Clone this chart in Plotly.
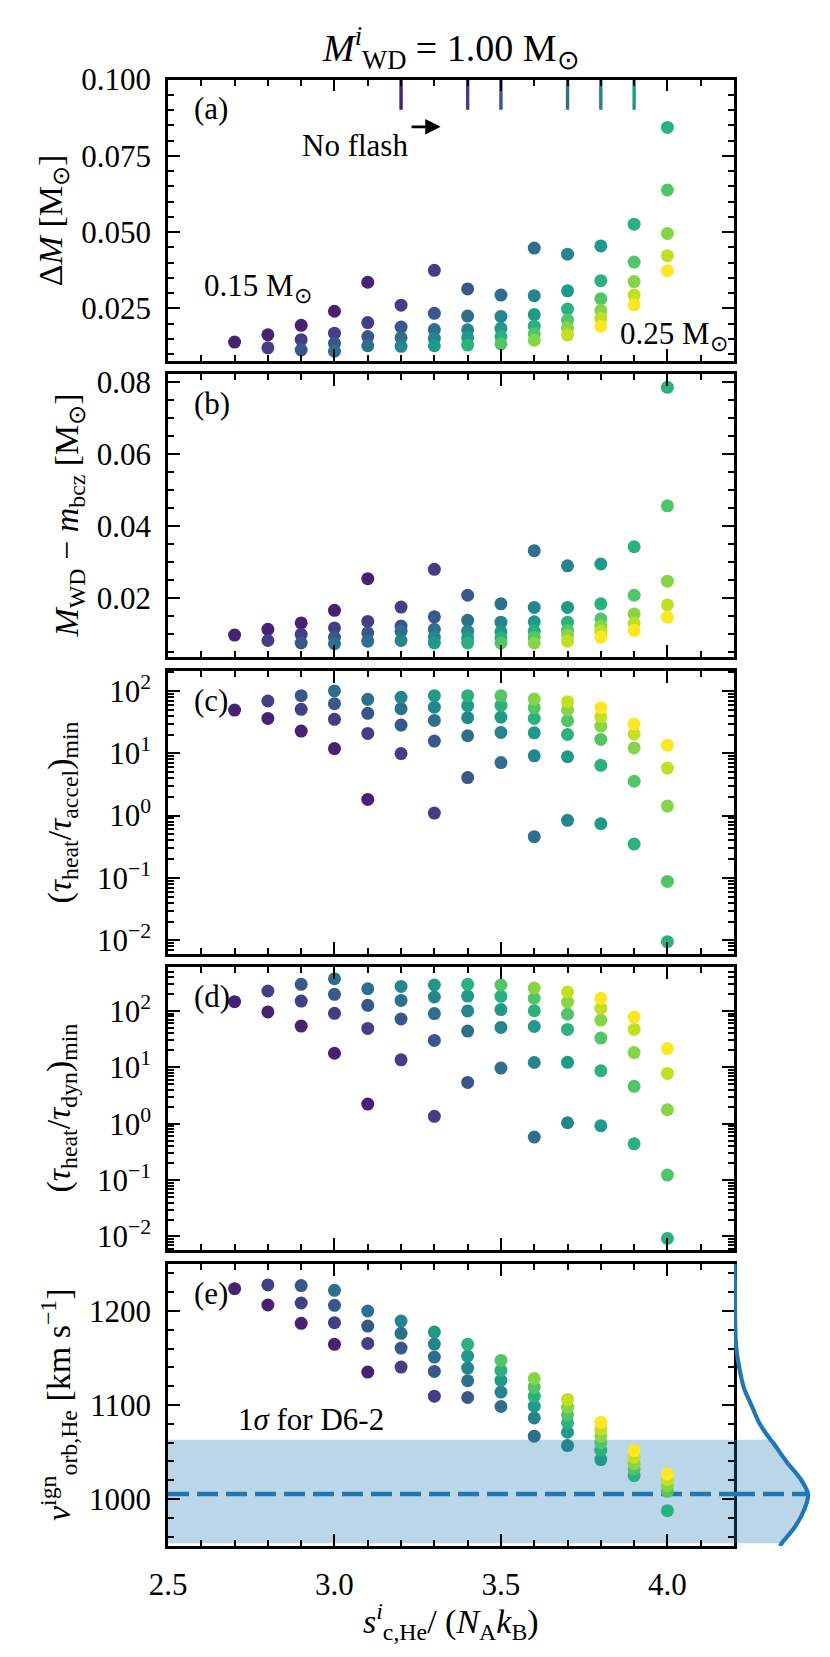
import plotly.graph_objects as go

# ---------------- data ----------------
masses = [0.15, 0.16, 0.17, 0.18, 0.19, 0.20, 0.21, 0.22, 0.23, 0.24, 0.25]
colors = ['#482173', '#433e85', '#38588c', '#2e6f8e', '#25858e', '#1f9a8a',
          '#2bb17e', '#52c569', '#86d549', '#c2df23', '#fde725']

s_vals = [
    [2.7, 2.8, 2.9, 3.0, 3.1],
    [2.8, 2.9, 3.0, 3.1, 3.2, 3.3],
    [2.9, 3.0, 3.1, 3.2, 3.3, 3.4],
    [3.0, 3.1, 3.2, 3.3, 3.4, 3.5, 3.6],
    [3.2, 3.3, 3.4, 3.5, 3.6, 3.7],
    [3.3, 3.4, 3.5, 3.6, 3.7, 3.8],
    [3.4, 3.5, 3.6, 3.7, 3.8, 3.9, 4.0],
    [3.5, 3.6, 3.7, 3.8, 3.9, 4.0],
    [3.6, 3.7, 3.8, 3.9, 4.0],
    [3.7, 3.8, 3.9, 4.0],
    [3.8, 3.9, 4.0],
]

delta_M = [
    [0.0140, 0.0164, 0.0195, 0.0241, 0.0336],
    [0.0121, 0.0148, 0.0169, 0.0204, 0.0261, 0.0375],
    [0.0114, 0.0136, 0.0158, 0.0189, 0.0234, 0.0314],
    [0.0110, 0.0128, 0.0154, 0.0181, 0.0225, 0.0294, 0.0448],
    [0.0126, 0.0152, 0.0180, 0.0224, 0.0292, 0.0428],
    [0.0128, 0.0155, 0.0185, 0.0230, 0.0308, 0.0455],
    [0.0130, 0.0158, 0.0192, 0.0248, 0.0341, 0.0526, 0.0843],
    [0.0134, 0.0167, 0.0212, 0.0282, 0.0402, 0.0638],
    [0.0146, 0.0186, 0.0244, 0.0338, 0.0496],
    [0.0163, 0.0218, 0.0294, 0.0423],
    [0.0191, 0.0262, 0.0374],
]

m_above_bcz = [
    [0.0096, 0.0112, 0.0130, 0.0165, 0.0253],
    [0.0081, 0.0098, 0.0116, 0.0134, 0.0174, 0.0279],
    [0.0074, 0.0090, 0.0102, 0.0121, 0.0147, 0.0207],
    [0.0072, 0.0079, 0.0107, 0.0112, 0.0137, 0.0183, 0.0331],
    [0.0081, 0.0090, 0.0107, 0.0132, 0.0173, 0.0289],
    [0.0074, 0.0088, 0.0105, 0.0133, 0.0173, 0.0294],
    [0.0074, 0.0088, 0.0107, 0.0132, 0.0183, 0.0342, 0.0786],
    [0.0074, 0.0090, 0.0109, 0.0141, 0.0207, 0.0456],
    [0.0074, 0.0096, 0.0121, 0.0155, 0.0246],
    [0.0079, 0.0107, 0.0129, 0.0180],
    [0.0090, 0.0109, 0.0146],
]

heat_accel = [
    [49.4, 36.3, 22.7, 11.9, 1.82],
    [69, 50.7, 35, 20.8, 9.9, 1.10],
    [84, 62.5, 43.7, 28.3, 15.7, 4.07],
    [100, 73.4, 52, 33.7, 19.1, 7.1, 0.46],
    [79, 55, 37.2, 21.6, 9.1, 0.84],
    [84, 58, 38.1, 21.3, 8.8, 0.74],
    [84, 58.8, 36.3, 20.0, 6.4, 0.35, 0.0095],
    [84, 54, 33.3, 16.7, 3.56, 0.088],
    [74.3, 49.4, 27.3, 12.2, 1.42],
    [67.3, 38.6, 20.3, 5.8],
    [54, 29.4, 13.5],
]

heat_dyn = [
    [146, 96, 54, 17.8, 2.23],
    [226, 150, 91, 49, 13.6, 1.35],
    [297, 197, 126, 72, 30, 5.4],
    [373, 248, 154, 90, 44, 9.7, 0.58],
    [273, 177, 100, 51, 12.2, 1.04],
    [289, 184, 106, 53, 12.3, 0.92],
    [297, 182, 101, 47, 8.7, 0.44, 0.0092],
    [289, 168, 88, 33, 4.6, 0.123],
    [255, 144, 69, 18.3, 1.77],
    [217, 111, 47, 7.8],
    [168, 78, 21.5],
]

v_orb = [
    [1223.8, 1206.4, 1186.9, 1164.5, 1135.0],
    [1227.7, 1208.5, 1187.6, 1165.5, 1140.3, 1109.4],
    [1227.0, 1206.0, 1184.0, 1160.6, 1135.7, 1108.0],
    [1222.0, 1200.0, 1176.2, 1151.0, 1125.8, 1098.4, 1066.8],
    [1189.3, 1164.8, 1139.3, 1113.7, 1086.3, 1056.8],
    [1177.6, 1152.0, 1126.1, 1098.8, 1071.0, 1041.9],
    [1164.5, 1136.8, 1109.4, 1081.0, 1051.9, 1024.9, 987.6],
    [1147.4, 1119.0, 1089.5, 1059.7, 1032.0, 1008.2],
    [1128.2, 1097.7, 1067.1, 1037.7, 1014.2],
    [1105.9, 1074.2, 1044.4, 1020.6],
    [1081.7, 1051.5, 1026.6],
]

# "No flash" limits (first s without a flash) for the lowest donor masses
no_flash_s = [3.2, 3.4, 3.5, 3.7, 3.8, 3.9]

# D6-2 velocity distribution (peak normalised to 1)
d6_v = [1250, 1200, 1180, 1160, 1140, 1118, 1100, 1080, 1063, 1060, 1040,
        1020, 1005, 990, 970, 953, 950]
d6_pdf = [0.009, 0.0135, 0.018, 0.031, 0.07, 0.135, 0.234, 0.347, 0.495,
          0.527, 0.707, 0.91, 1.0, 0.955, 0.82, 0.645, 0.62]
d6_mean = 1005.3
d6_lo, d6_hi = 953, 1063

# ---------------- layout ----------------
W, H = 830, 1657
FONT = 'Liberation Serif'
FS = 31
xl, xr = 160 / W, 726 / W
panel_px = [(71.5, 353), (366, 649), (663, 946), (959, 1242), (1256, 1538)]
ydoms = [[1 - b / H, 1 - t / H] for t, b in panel_px]

fig = go.Figure()

panels = [delta_M, m_above_bcz, heat_accel, heat_dyn, v_orb]
for p, vals in enumerate(panels):
    xa = 'x' if p == 0 else f'x{p+1}'
    ya = 'y' if p == 0 else f'y{p+1}'
    for i in range(len(masses)):
        fig.add_trace(go.Scatter(
            x=s_vals[i], y=vals[i], mode='markers',
            marker=dict(size=13, color=colors[i], line=dict(width=0)),
            xaxis=xa, yaxis=ya, showlegend=False, hoverinfo='skip'))

# no-flash ticks at top of panel (a)
for k, s in enumerate(no_flash_s):
    fig.add_trace(go.Scatter(x=[s, s], y=[0.0901, 0.1], mode='lines',
                             line=dict(color=colors[k], width=3.4),
                             xaxis='x', yaxis='y', showlegend=False,
                             hoverinfo='skip', cliponaxis=False))

# side distribution
band_v = [v for v in d6_v if d6_lo <= v <= d6_hi]
band_w = [w for v, w in zip(d6_v, d6_pdf) if d6_lo <= v <= d6_hi]
fig.add_trace(go.Scatter(x=[0] + band_w + [0], y=[band_v[0]] + band_v + [band_v[-1]],
                         fill='toself', fillcolor='rgba(31,119,180,0.3)',
                         line=dict(width=0), mode='lines',
                         xaxis='x6', yaxis='y6', showlegend=False, hoverinfo='skip'))
fig.add_trace(go.Scatter(x=d6_pdf, y=d6_v, mode='lines',
                         line=dict(color='#1f77b4', width=4.2, shape='spline'),
                         xaxis='x6', yaxis='y6', showlegend=False, hoverinfo='skip'))
fig.add_trace(go.Scatter(x=[0, 1.0], y=[d6_mean, d6_mean], mode='lines',
                         line=dict(color='#1f77b4', width=4.3, dash='21px,8px'),
                         xaxis='x6', yaxis='y6', showlegend=False, hoverinfo='skip'))

axis_common = dict(showline=True, linewidth=2.5, linecolor='black', mirror='allticks',
                   ticks='inside', ticklen=12, tickwidth=2, tickcolor='black',
                   showgrid=False, zeroline=False, automargin=False,
                   tickfont=dict(family=FONT, size=FS, color='black'))
minor_common = dict(ticks='inside', ticklen=6.5, tickwidth=1.6, tickcolor='black', showgrid=False)

log_minor = [k * 10.0 ** e for e in range(-3, 3) for k in range(2, 10)]
log_vals = [0.01, 0.1, 1, 10, 100]
log_text = ['10<sup>−2</sup>', '10<sup>−1</sup>', '10<sup>0</sup>', '10<sup>1</sup>', '10<sup>2</sup>']

yaxes = [
    dict(range=[0.0078, 0.100], tickmode='array', tickvals=[0.025, 0.05, 0.075, 0.1],
         ticktext=['0.025', '0.050', '0.075', '0.100'], minor=dict(dtick=0.005, tick0=0, **minor_common)),
    dict(range=[0.0035, 0.0823], tickmode='array', tickvals=[0.02, 0.04, 0.06, 0.08],
         ticktext=['0.02', '0.04', '0.06', '0.08'], minor=dict(dtick=0.005, tick0=0, **minor_common)),
    dict(type='log', range=[-2.22, 2.32], tickmode='array', tickvals=log_vals, ticktext=log_text,
         minor=dict(tickmode='array', tickvals=log_minor, **minor_common)),
    dict(type='log', range=[-2.24, 2.78], tickmode='array', tickvals=log_vals, ticktext=log_text,
         minor=dict(tickmode='array', tickvals=log_minor, **minor_common)),
    dict(range=[950, 1250], tickmode='array', tickvals=[1000, 1100, 1200],
         ticktext=['1000', '1100', '1200'], minor=dict(dtick=20, tick0=0, **minor_common)),
]

lay = {}
for p in range(5):
    xn = 'xaxis' if p == 0 else f'xaxis{p+1}'
    yn = 'yaxis' if p == 0 else f'yaxis{p+1}'
    ya = 'y' if p == 0 else f'y{p+1}'
    xa = 'x' if p == 0 else f'x{p+1}'
    lay[xn] = dict(domain=[xl, xr], anchor=ya, range=[2.5, 4.2], tickmode='array',
                   tickvals=[2.5, 3.0, 3.5, 4.0], ticktext=['2.5', '3.0', '3.5', '4.0'],
                   showticklabels=(p == 4), ticklabelstandoff=9,
                   minor=dict(dtick=0.1, tick0=2.5, **minor_common), **axis_common)
    lay[yn] = dict(domain=ydoms[p], anchor=xa, ticklabelstandoff=8, **yaxes[p], **axis_common)

lay['xaxis6'] = dict(domain=[xr, 1.0], anchor='y6', range=[0, 1.405], visible=False)
lay['yaxis6'] = dict(domain=ydoms[4], anchor='x6', range=[950, 1250], visible=False)

fig.update_layout(width=W, height=H, margin=dict(l=0, r=0, t=0, b=0),
                  paper_bgcolor='white', plot_bgcolor='rgba(0,0,0,0)',
                  font=dict(family=FONT, size=FS, color='black'), **lay)

# band and dashed line in panel (e)
fig.add_shape(type='rect', xref='x5 domain', yref='y5', x0=0, x1=1, y0=d6_lo, y1=d6_hi,
              fillcolor='rgba(31,119,180,0.3)', line=dict(width=0), layer='below')
fig.add_shape(type='line', xref='x5', yref='y5', x0=2.5, x1=4.2, y0=d6_mean, y1=d6_mean,
              line=dict(color='#1f77b4', width=4.3, dash='21px,8px'), layer='below')

ann = []
def txt(text, x, y, xref, yref, xanchor='left', yanchor='middle', size=FS, angle=0):
    ann.append(dict(text=text, x=x, y=y, xref=xref, yref=yref, xanchor=xanchor,
                    yanchor=yanchor, showarrow=False, textangle=angle,
                    font=dict(family=FONT, size=size, color='black')))

# title
txt('<i>M</i><sup><i>i</i></sup><sub>WD</sub> = 1.00 M<sub>⊙</sub>', (160 + 726) / 2 / W,
    1 - 40 / H, 'paper', 'paper', xanchor='center', size=38)
# panel labels
for p, lab in enumerate(['(a)', '(b)', '(c)', '(d)', '(e)']):
    xa = 'x' if p == 0 else f'x{p+1}'
    ya = 'y' if p == 0 else f'y{p+1}'
    txt(lab, 2.573, 0.896, xa, ya + ' domain')
# panel (a) notes
txt('No flash', 3.227, 0.0783, 'x', 'y', xanchor='right')
txt('0.15 M<sub>⊙</sub>', 2.602, 0.0317, 'x', 'y')
txt('0.25 M<sub>⊙</sub>', 3.852, 0.0160, 'x', 'y')
# panel (e) note
txt('1<i>σ</i> for D6-2', 2.704, 1084.5, 'x5', 'y5')

# y-axis titles
ytitles = ['Δ<i>M</i> [M<sub>⊙</sub>]',
           '<i>M</i><sub>WD</sub> − <i>m</i><sub>bcz</sub> [M<sub>⊙</sub>]',
           '(<i>τ</i><sub>heat</sub>/<i>τ</i><sub>accel</sub>)<sub>min</sub>',
           '(<i>τ</i><sub>heat</sub>/<i>τ</i><sub>dyn</sub>)<sub>min</sub>',
           '<i>v</i><sup>ign</sup><sub>orb,He</sub> [km s<sup>−1</sup>]']
ytitle_x = [45, 60, 53, 52, 50]
for p, t in enumerate(ytitles):
    txt(t, ytitle_x[p] / W, sum(ydoms[p]) / 2, 'paper', 'paper', xanchor='center',
        angle=-90, size=34)
# x-axis title
txt('<i>s</i><sup><i>i</i></sup><sub>c,He</sub>/ (<i>N</i><sub>A</sub><i>k</i><sub>B</sub>)',
    (160 + 726) / 2 / W, 1 - 1613 / H, 'paper', 'paper', xanchor='center', size=34)

# arrow
ann.append(dict(x=3.319, y=0.0845, ax=3.227, ay=0.0845, xref='x', yref='y', axref='x', ayref='y',
                text='', showarrow=True, arrowhead=2, arrowsize=1.1, arrowwidth=2.8,
                arrowcolor='black'))

fig.update_layout(annotations=ann)
fig.write_html('out.html')
